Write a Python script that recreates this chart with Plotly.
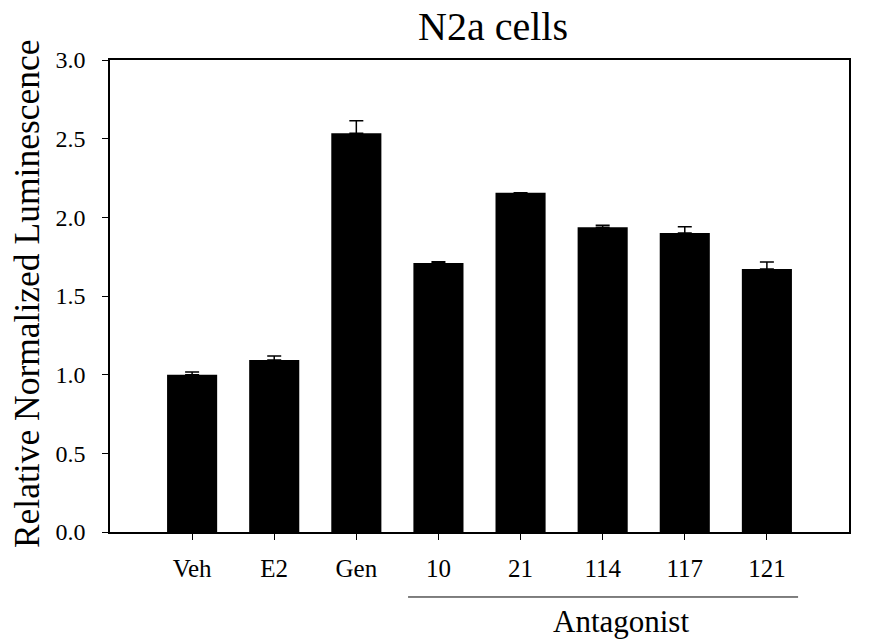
import plotly.graph_objects as go

categories = ["Veh", "E2", "Gen", "10", "21", "114", "117", "121"]
values = [1.00, 1.093, 2.534, 1.71, 2.157, 1.937, 1.90, 1.672]
errors = [0.017, 0.025, 0.08, 0.007, 0.0, 0.013, 0.04, 0.044]
y_ticks = [0.0, 0.5, 1.0, 1.5, 2.0, 2.5, 3.0]
title_text = "N2a cells"
group_label = "Antagonist"
group_members = ["10", "21", "114", "117", "121"]

FONT = "Liberation Serif, Times New Roman, serif"

fig = go.Figure()
fig.add_trace(go.Bar(
    x=categories, y=values, width=0.61,
    marker=dict(color="black", line=dict(width=0)),
    error_y=dict(type="data", array=errors, symmetric=False, arrayminus=[0]*len(errors),
                 color="black", thickness=1.5, width=7),
))

i0 = categories.index(group_members[0])
i1 = categories.index(group_members[-1])
fig.add_shape(type="line", xref="x", yref="paper",
              x0=i0 - 0.37, x1=i1 + 0.38, y0=-0.1377, y1=-0.1377,
              line=dict(color="black", width=1))
fig.add_annotation(text=group_label, xref="x", yref="paper",
                   x=(i0 + i1) / 2 + 0.22, y=-0.19, showarrow=False,
                   xanchor="center", yanchor="middle",
                   font=dict(family=FONT, size=31, color="black"))
fig.add_annotation(text="Relative Normalized Luminescence", xref="paper", yref="paper",
                   x=-0.1123, y=0.504, textangle=-90, showarrow=False,
                   xanchor="center", yanchor="middle",
                   font=dict(family=FONT, size=35.5, color="black"))
fig.add_annotation(text=title_text, xref="paper", yref="paper",
                   x=0.518, y=1.072, showarrow=False,
                   xanchor="center", yanchor="middle",
                   font=dict(family=FONT, size=40, color="black"))

W, H = 865, 633  # page body has an 8px margin
fig.update_layout(
    width=W, height=H,
    margin=dict(l=102, r=24, t=52, b=109),
    paper_bgcolor="white", plot_bgcolor="white",
    showlegend=False,
    font=dict(family=FONT, color="black"),
    xaxis=dict(range=[-1, 8], showline=True, linecolor="black", linewidth=1.5, mirror=True,
               ticks="outside", ticklen=6, tickwidth=1, tickcolor="black",
               showgrid=False, zeroline=False, ticklabelstandoff=7,
               tickfont=dict(family=FONT, size=25, color="black")),
    yaxis=dict(range=[0, 3.0], tickvals=y_ticks, ticktext=[f"{v:.1f}" for v in y_ticks],
               showline=True, linecolor="black", linewidth=1.5, mirror=True,
               ticks="outside", ticklen=6, tickwidth=1, tickcolor="black",
               showgrid=False, zeroline=False, ticklabelstandoff=12,
               tickfont=dict(family=FONT, size=24, color="black")),
    bargap=0.39,
)

fig.write_html("out.html")
